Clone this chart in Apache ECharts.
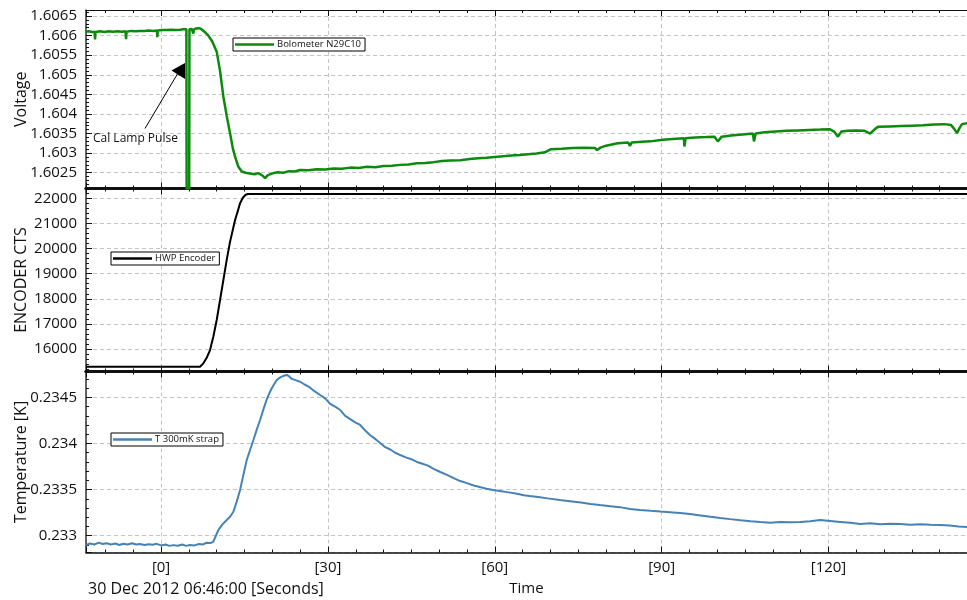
<!DOCTYPE html>
<html>
<head>
<meta charset="utf-8">
<script src="https://cdn.jsdelivr.net/npm/echarts@6/dist/echarts.min.js"></script>
<style>
html,body{margin:0;padding:0;background:#fff;}
#chart{width:967px;height:600px;}
</style>
</head>
<body>
<div id="chart"></div>
<script>
// ---- data (time in seconds from 30 Dec 2012 06:46:00) ----
const boloName = 'Bolometer N29C10';
const encName = 'HWP Encoder';
const tempName = 'T 300mK strap';

const boloT = [-13.5,-13.0,-12.4,-11.95,-11.87,-11.8,-11.0,-10.2,-9.4,-8.6,-7.8,-7.0,-6.4,-6.3,-6.2,-5.4,-4.6,-3.8,-3.0,-2.2,-1.4,-0.75,-0.67,-0.6,0.2,1.0,1.8,2.6,3.4,4.0,4.55,4.6,5.05,5.1,5.5,5.8,5.9,6.3,6.8,7.2,7.8,8.5,9.2,10.0,10.6,11.2,11.8,12.4,12.9,13.3,13.9,14.5,15.2,16.0,16.8,17.5,18.2,18.7,19.2,19.8,20.2,21.0,22.0,23.0,24.0,25.0,26.5,28.0,29.5,31.0,32.5,34.1,35.5,37.0,38.5,40.0,41.5,43.0,44.5,46.0,47.5,49.0,50.5,52.0,53.8,55.5,57.0,58.5,60.0,61.5,63.0,64.5,66.0,67.5,69.0,70.1,72.0,74.0,76.0,78.0,78.4,79.0,80.0,82.1,84.0,84.3,84.6,86.5,88.0,90.2,92.0,94.0,94.1,94.3,96.0,98.0,99.5,100.1,100.8,102.5,104.0,105.5,106.4,106.6,106.9,108.5,110.5,112.5,114.5,116.5,118.5,120.2,121.0,121.7,122.3,123.5,125.0,126.5,127.5,127.7,128.4,128.9,131.0,133.0,135.0,137.0,139.0,140.9,142.0,142.6,143.1,143.6,144.0,144.9];
const boloV = [1.60610,1.60611,1.60609,1.60610,1.60590,1.60609,1.60611,1.60609,1.60611,1.60610,1.60611,1.60610,1.60611,1.60591,1.60610,1.60612,1.60611,1.60612,1.60612,1.60613,1.60612,1.60613,1.60596,1.60613,1.60614,1.60614,1.60615,1.60614,1.60615,1.60616,1.60616,1.6015,1.6015,1.60616,1.60617,1.60605,1.60616,1.60618,1.60619,1.60617,1.60610,1.60600,1.60585,1.60559,1.60510,1.60444,1.60395,1.60351,1.60312,1.60291,1.60265,1.60253,1.60250,1.60248,1.60246,1.60249,1.60243,1.60236,1.60244,1.60247,1.60249,1.60251,1.60250,1.60254,1.60253,1.60257,1.60256,1.60259,1.60258,1.60261,1.60260,1.60263,1.60262,1.60265,1.60264,1.60267,1.60268,1.60270,1.60271,1.60274,1.60275,1.60277,1.60280,1.60281,1.60282,1.60285,1.60287,1.60288,1.60290,1.60292,1.60294,1.60295,1.60297,1.60299,1.60302,1.60310,1.60311,1.60313,1.60314,1.60313,1.60308,1.60314,1.60319,1.60325,1.60327,1.60318,1.60327,1.60329,1.60330,1.60334,1.60336,1.60338,1.60317,1.60338,1.60340,1.60341,1.60342,1.60330,1.60342,1.60345,1.60347,1.60349,1.60350,1.60330,1.60350,1.60353,1.60355,1.60357,1.60358,1.60359,1.60360,1.60361,1.60355,1.60342,1.60355,1.60357,1.60358,1.60357,1.60350,1.60348,1.60362,1.60367,1.60368,1.60369,1.60370,1.60371,1.60373,1.60374,1.60372,1.60362,1.60351,1.60365,1.60374,1.60376];

const encT = [-13.5,7.0,7.6,8.2,8.8,9.4,10.0,10.6,11.2,11.8,12.4,12.9,13.3,13.8,14.2,14.7,15.2,15.6,144.9];
const encV = [15295,15295,15430,15650,15960,16500,17155,17950,18747,19550,20270,20750,21136,21500,21800,22020,22140,22170,22170];

const tempT = [-13.5,-12.8,-12.0,-11.2,-10.5,-9.8,-9.0,-8.2,-7.5,-6.8,-6.0,-5.2,-4.5,-3.8,-3.0,-2.2,-1.5,-0.8,0.0,0.8,1.5,2.2,3.0,3.8,4.5,5.2,6.0,6.8,7.5,8.2,8.9,9.4,10.3,11.0,11.8,12.4,13.0,13.6,14.2,14.8,15.4,16.0,16.6,17.2,17.8,18.4,19.0,19.5,19.9,20.4,20.8,21.3,21.7,22.2,22.6,23.0,23.4,23.8,24.3,25.0,25.8,26.6,27.5,28.6,29.5,30.4,31.3,32.2,33.1,34.0,34.9,35.8,36.7,37.6,38.5,39.4,40.3,41.2,42.1,43.0,44.0,45.0,46.0,47.0,48.0,49.0,50.2,51.4,52.6,53.8,55.0,56.2,57.3,58.5,59.7,60.9,62.5,64.0,65.2,66.3,67.8,69.5,71.7,73.5,75.5,77.2,78.9,80.8,82.5,84.3,86.1,88.0,89.8,91.5,93.3,95.1,97.0,98.8,100.5,102.3,104.2,106.0,107.7,109.5,111.3,113.1,114.9,116.7,118.5,120.3,122.1,123.9,125.7,127.5,129.3,131.1,132.9,134.7,136.5,138.3,140.0,141.8,143.4,144.9];
const tempV = [0.232900,0.232915,0.232905,0.232925,0.232910,0.232918,0.232905,0.232915,0.232900,0.232912,0.232905,0.232918,0.232905,0.232910,0.232900,0.232908,0.232902,0.232912,0.232895,0.232905,0.232890,0.232898,0.232892,0.232905,0.232890,0.232900,0.232895,0.232910,0.232905,0.232925,0.232920,0.232935,0.233062,0.233120,0.233170,0.233206,0.233260,0.233370,0.233496,0.233660,0.233821,0.233930,0.234038,0.234150,0.234255,0.234370,0.234480,0.234550,0.234599,0.234650,0.234689,0.234712,0.234725,0.234738,0.234743,0.234730,0.234705,0.234696,0.234685,0.234670,0.234640,0.234615,0.234570,0.234526,0.234490,0.234430,0.234400,0.234363,0.234300,0.234265,0.234230,0.234201,0.234140,0.234090,0.234050,0.234005,0.233960,0.233935,0.233900,0.233875,0.233850,0.233830,0.233800,0.233780,0.233760,0.233725,0.233691,0.233660,0.233625,0.233593,0.233570,0.233545,0.233528,0.233510,0.233495,0.233485,0.233470,0.233455,0.233440,0.233431,0.233420,0.233405,0.233387,0.233375,0.233360,0.233345,0.233333,0.233320,0.233310,0.233290,0.233279,0.233270,0.233262,0.233255,0.233246,0.233235,0.233220,0.233205,0.233192,0.233180,0.233168,0.233158,0.233149,0.233140,0.233150,0.233145,0.233149,0.233158,0.233170,0.233160,0.233150,0.233140,0.233127,0.233135,0.233125,0.233130,0.233127,0.233120,0.233125,0.233118,0.233116,0.233110,0.233100,0.233094];

// axis ranges
const xRange = [-13.5, 144.9];
const xStep = 30;
const yRanges = [[1.602097, 1.606653], [15105, 22390], [0.232818, 0.234781]];
const ySteps = [0.0005, 1000, 0.0005];
const yNames = ['Voltage', 'ENCODER CTS', 'Temperature [K]'];
const dateLabel = '30 Dec 2012 06:46:00 [Seconds]';
const annotationText = 'Cal Lamp Pulse';

function pairs(ts, vs) { return ts.map((t, i) => [t, vs[i]]); }

const FONT = 'Open Sans';
const gridDefs = [
  { left: 86, right: 0, top: 10, height: 178.5 },
  { left: 86, right: 0, top: 188.5, height: 183 },
  { left: 86, right: 0, top: 371.5, height: 181 }
];
const splitStyle = { color: '#c4c4c4', width: 1, type: [4, 3] };

function xAx(gi, pos, lineW, showLabel, showSplit) {
  const a = {
    type: 'value', gridIndex: gi, position: pos,
    min: xRange[0], max: xRange[1], minInterval: xStep, maxInterval: xStep,
    axisLine: { show: true, onZero: false, lineStyle: { color: '#111', width: lineW } },
    axisTick: { show: true, inside: true, length: 6, lineStyle: { color: '#111', width: 1 } },
    minorTick: { show: true, splitNumber: 6, length: 3, lineStyle: { color: '#111', width: 1 } },
    splitLine: { show: showSplit, lineStyle: splitStyle },
    axisLabel: {
      show: showLabel, showMinLabel: false, showMaxLabel: false,
      fontFamily: FONT, fontSize: 15, color: '#111', margin: 8,
      formatter: v => '[' + Math.round(v) + ']'
    }
  };
  if (showLabel) {
    a.name = 'Time'; a.nameLocation = 'middle'; a.nameGap = 29; a.nameMoveOverlap = false;
    a.nameTextStyle = { fontFamily: FONT, fontSize: 15, color: '#111' };
  }
  return a;
}

function yAx(gi) {
  return {
    type: 'value', gridIndex: gi, position: 'left',
    min: yRanges[gi][0], max: yRanges[gi][1],
    minInterval: ySteps[gi], maxInterval: ySteps[gi],
    name: yNames[gi], nameLocation: 'middle', nameGap: 57, nameRotate: 90, nameMoveOverlap: false,
    nameTextStyle: { fontFamily: FONT, fontSize: 16, color: '#111' },
    axisLine: { show: true, onZero: false, lineStyle: { color: '#333', width: 1.5 } },
    axisTick: { show: true, inside: true, length: 6, lineStyle: { color: '#111', width: 1 } },
    minorTick: { show: true, splitNumber: 5, length: 3, lineStyle: { color: '#111', width: 1 } },
    splitLine: { show: true, lineStyle: splitStyle },
    axisLabel: {
      showMinLabel: false, showMaxLabel: false,
      fontFamily: FONT, fontSize: 15, color: '#111', margin: 9,
      formatter: v => String(parseFloat(Number(v).toFixed(6)))
    }
  };
}

const legendBase = {
  orient: 'horizontal', backgroundColor: '#fff', borderColor: '#000', borderWidth: 1,
  borderRadius: 0, padding: [1.5, 4, 1.5, 2], itemWidth: 39, itemHeight: 2.5, icon: 'rect',
  selectedMode: false, textStyle: { fontFamily: FONT, fontSize: 9.5, color: '#111', padding: [0, 0, 0, -2] }
};

const chart = echarts.init(document.getElementById('chart'), null, { renderer: 'canvas' });
chart.setOption({
  animation: false,
  backgroundColor: '#fff',
  grid: gridDefs,
  xAxis: [
    xAx(0, 'bottom', 3, false, true),
    xAx(0, 'top', 1, false, false),
    xAx(1, 'bottom', 3, false, true),
    xAx(1, 'top', 3, false, false),
    xAx(2, 'bottom', 1.5, true, true),
    xAx(2, 'top', 3, false, false)
  ],
  yAxis: [yAx(0), yAx(1), yAx(2)],
  legend: [
    Object.assign({}, legendBase, { data: [boloName], left: 233, top: 38 }),
    Object.assign({}, legendBase, { data: [encName], left: 111, top: 252 }),
    Object.assign({}, legendBase, { data: [tempName], left: 111, top: 433 })
  ],
  series: [
    { name: boloName, type: 'line', xAxisIndex: 0, yAxisIndex: 0, data: pairs(boloT, boloV),
      symbol: 'none', showSymbol: false, clip: true, color: '#0b8a0b',
      lineStyle: { color: '#0b8a0b', width: 2.5 } },
    { name: encName, type: 'line', xAxisIndex: 2, yAxisIndex: 1, data: pairs(encT, encV),
      symbol: 'none', showSymbol: false, clip: true, color: '#000',
      lineStyle: { color: '#000', width: 2 } },
    { name: tempName, type: 'line', xAxisIndex: 4, yAxisIndex: 2, data: pairs(tempT, tempV),
      symbol: 'none', showSymbol: false, clip: true, color: '#4682b4',
      lineStyle: { color: '#4682b4', width: 2 } }
  ],
  graphic: [
    { type: 'line', z: 100, shape: { x1: 145, y1: 128.5, x2: 178, y2: 73 }, style: { stroke: '#000', lineWidth: 1 } },
    { type: 'polygon', z: 100, shape: { points: [[171.5, 70.5], [185, 63], [185, 79]] }, style: { fill: '#000' } },
    { type: 'text', z: 100, left: 93, top: 133, style: { text: annotationText, font: '12px "Open Sans"', fill: '#111' } },
    { type: 'text', z: 100, left: 88, top: 581, style: { text: dateLabel, font: '16px "Open Sans"', fill: '#111' } }
  ]
});
</script>
</body>
</html>
